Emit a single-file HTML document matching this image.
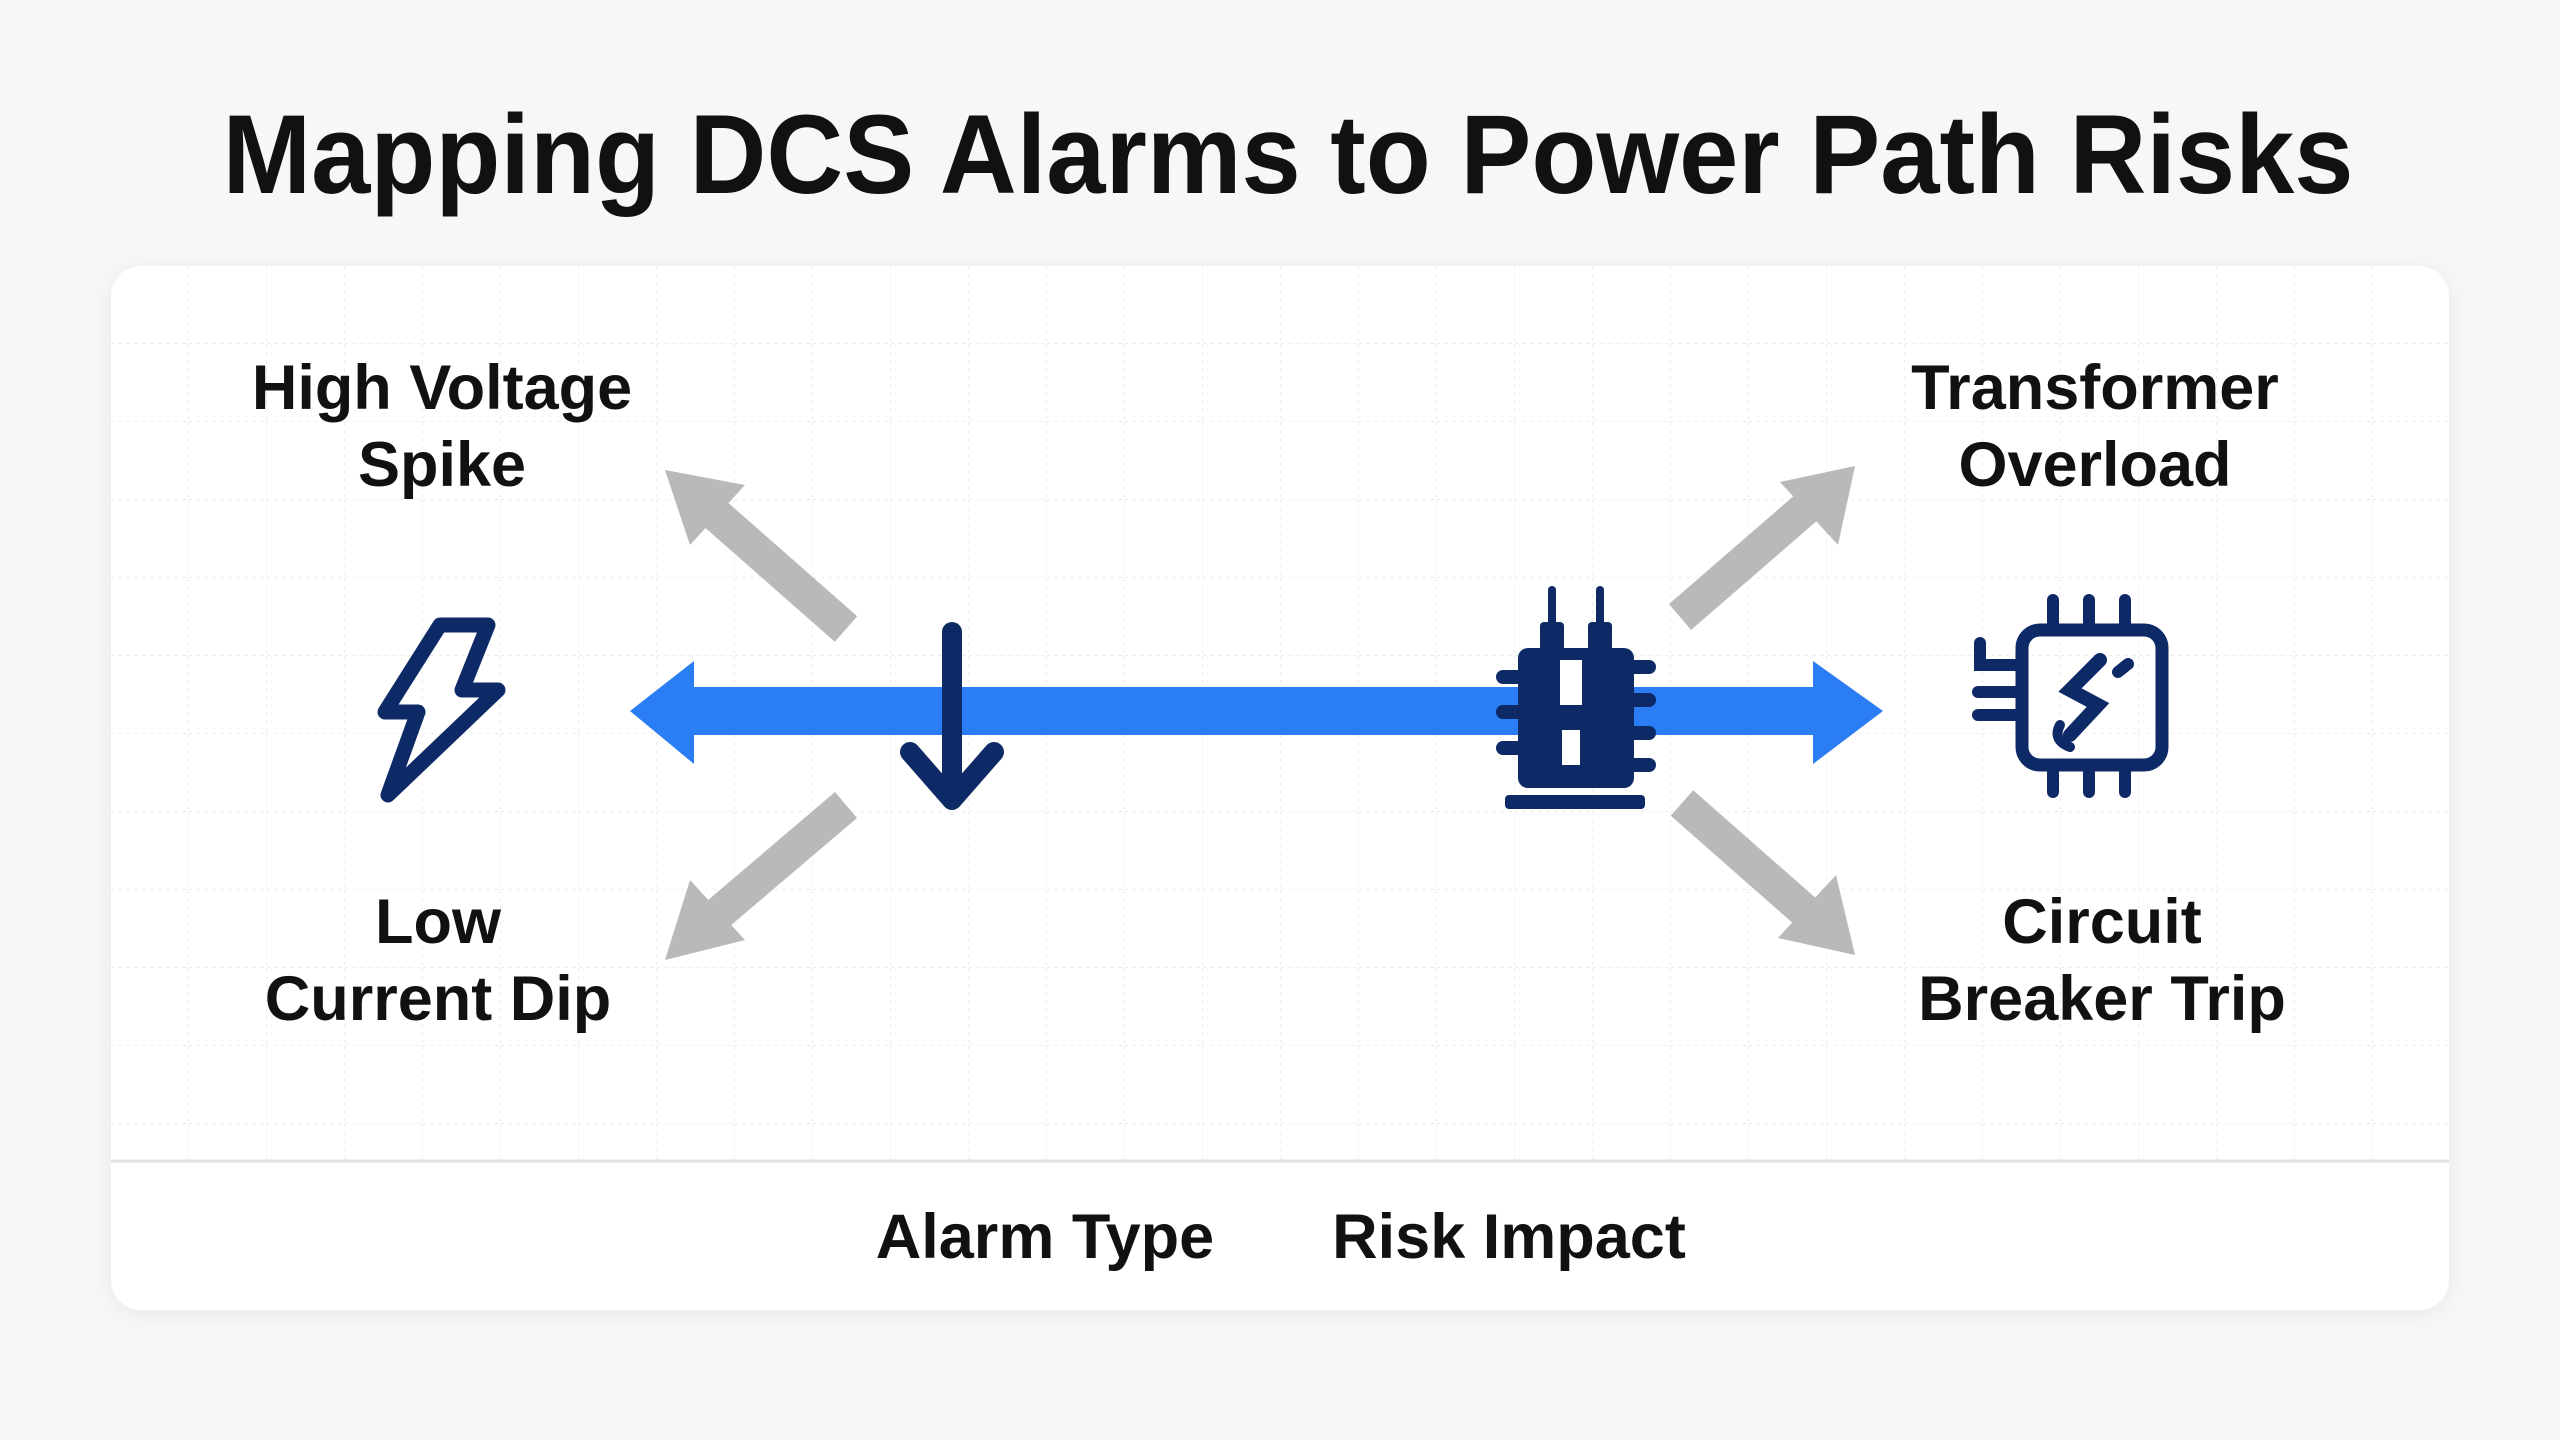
<!DOCTYPE html>
<html><head><meta charset="utf-8"><style>
html,body{margin:0;padding:0;width:2560px;height:1440px;overflow:hidden;background:#f6f6f6;}
svg{display:block}
text{font-family:"Liberation Sans",Arial,sans-serif;font-weight:bold;fill:#111;}
</style></head><body>
<svg width="2560" height="1440" viewBox="0 0 2560 1440" xmlns="http://www.w3.org/2000/svg">
<defs>
<pattern id="g" width="78" height="78" patternUnits="userSpaceOnUse" x="111" y="266">
<path d="M78 0V78M0 78H78" stroke="#ececec" stroke-width="2" stroke-dasharray="3 5" fill="none"/>
</pattern>
<filter id="sh" x="-5%" y="-5%" width="110%" height="110%"><feDropShadow dx="0" dy="4" stdDeviation="10" flood-color="#000" flood-opacity="0.06"/></filter>
</defs>
<rect width="2560" height="1440" fill="#f7f7f7"/>
<text x="1288" y="193" font-size="112" text-anchor="middle" textLength="2131" lengthAdjust="spacingAndGlyphs">Mapping DCS Alarms to Power Path Risks</text>
<rect x="111" y="266" width="2338" height="1044" rx="30" fill="#fff" filter="url(#sh)"/>
<rect x="111" y="266" width="2338" height="895" rx="30" fill="url(#g)"/>
<line x1="111" y1="1161" x2="2449" y2="1161" stroke="#e2e2e2" stroke-width="3"/>

<g stroke="#b9b9b9" stroke-width="34" fill="#b9b9b9">
<line x1="846" y1="629" x2="705" y2="505"/>
<polygon points="665,470 745,485 690,545" stroke="none"/>
<line x1="846" y1="805" x2="705" y2="925"/>
<polygon points="665,960 690,880 745,940" stroke="none"/>
<line x1="1680" y1="617" x2="1815" y2="500"/>
<polygon points="1855,466 1838,545 1780,482" stroke="none"/>
<line x1="1682" y1="803" x2="1815" y2="920"/>
<polygon points="1855,955 1778,938 1836,875" stroke="none"/>
</g>

<rect x="690" y="687" width="1130" height="48" fill="#2a7df2"/>
<polygon points="630,711 694,661 694,764" fill="#2a7df2"/>
<polygon points="1883,711 1813,661 1813,764" fill="#2a7df2"/>

<g stroke="#0e2a66" stroke-linecap="round" stroke-linejoin="round" fill="none">
<line x1="952" y1="632" x2="952" y2="795" stroke-width="20"/>
<polyline points="910,752 952,800 994,752" stroke-width="20"/>
</g>

<g fill="#0e2a66" stroke="#0e2a66">
<line x1="1552" y1="590" x2="1552" y2="625" stroke-width="8" stroke-linecap="round"/>
<line x1="1600" y1="590" x2="1600" y2="625" stroke-width="8" stroke-linecap="round"/>
<rect x="1540" y="622" width="24" height="30" rx="4" stroke="none"/>
<rect x="1588" y="622" width="24" height="30" rx="4" stroke="none"/>
<rect x="1518" y="648" width="116" height="140" rx="10" stroke="none"/>
<g stroke-width="14" stroke-linecap="round">
<line x1="1503" y1="677" x2="1518" y2="677"/><line x1="1503" y1="712" x2="1518" y2="712"/><line x1="1503" y1="748" x2="1518" y2="748"/>
<line x1="1634" y1="667" x2="1649" y2="667"/><line x1="1634" y1="700" x2="1649" y2="700"/><line x1="1634" y1="733" x2="1649" y2="733"/><line x1="1634" y1="765" x2="1649" y2="765"/>
</g>
<rect x="1505" y="795" width="140" height="14" rx="4" stroke="none"/>
<rect x="1560" y="660" width="22" height="45" fill="#fff" stroke="none"/>
<rect x="1562" y="730" width="18" height="35" fill="#fff" stroke="none"/>
</g>

<path d="M440 625 L488 625 L462 690 L498 690 L388 795 L418 712 L385 712 Z" fill="none" stroke="#0e2a66" stroke-width="15" stroke-linejoin="round"/>

<g stroke="#0e2a66" stroke-linecap="round" fill="none">
<rect x="2022" y="630" width="140" height="135" rx="18" stroke-width="13"/>
<g stroke-width="12">
<line x1="2053" y1="600" x2="2053" y2="628"/><line x1="2089" y1="600" x2="2089" y2="628"/><line x1="2125" y1="600" x2="2125" y2="628"/>
<line x1="2053" y1="767" x2="2053" y2="792"/><line x1="2089" y1="767" x2="2089" y2="792"/><line x1="2125" y1="767" x2="2125" y2="792"/>
<polyline points="1980,643 1980,665 2020,665"/>
<line x1="1978" y1="692" x2="2020" y2="692"/><line x1="1978" y1="715" x2="2020" y2="715"/>
</g>
<path d="M2100 660 L2070 690 L2098 705 L2070 735" stroke-width="14"/>
<path d="M2060 725 q-8 15 10 22" stroke-width="10"/>
<line x1="2118" y1="672" x2="2128" y2="664" stroke-width="12"/>
</g>

<g font-size="63" text-anchor="middle">
<text x="442" y="409">High Voltage</text><text x="442" y="486">Spike</text>
<text x="2095" y="409">Transformer</text><text x="2095" y="486">Overload</text>
<text x="438" y="943">Low</text><text x="438" y="1020">Current Dip</text>
<text x="2102" y="943">Circuit</text><text x="2102" y="1020">Breaker Trip</text>
<text x="1045" y="1258">Alarm Type</text><text x="1509" y="1258">Risk Impact</text>
</g>
</svg>
</body></html>
